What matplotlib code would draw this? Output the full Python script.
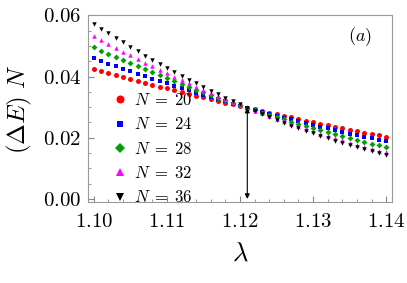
import numpy as np
import matplotlib
matplotlib.use('Agg')
import matplotlib.pyplot as plt
from matplotlib.ticker import MultipleLocator, FuncFormatter

plt.rcParams['mathtext.fontset'] = 'cm'
plt.rcParams['font.family'] = 'serif'
plt.rcParams['font.serif'] = ['cmr10', 'DejaVu Serif']
plt.rcParams['axes.formatter.use_mathtext'] = True

#=======================================================================================
# Data
#=======================================================================================

lam = [1.100, 1.101, 1.102, 1.103, 1.104, 1.105, 1.106, 1.107, 1.108, 1.109,
       1.110, 1.111, 1.112, 1.113, 1.114, 1.115, 1.116, 1.117, 1.118, 1.119,
       1.120, 1.121, 1.122, 1.123, 1.124, 1.125, 1.126, 1.127, 1.128, 1.129,
       1.130, 1.131, 1.132, 1.133, 1.134, 1.135, 1.136, 1.137, 1.138, 1.139,
       1.140]

gap_N20 = [0.04230, 0.04166, 0.04102, 0.04039, 0.03976, 0.03913, 0.03852, 0.03790, 0.03729, 0.03669,
           0.03609, 0.03549, 0.03490, 0.03432, 0.03374, 0.03316, 0.03259, 0.03202, 0.03146, 0.03090,
           0.03035, 0.02981, 0.02926, 0.02872, 0.02819, 0.02766, 0.02714, 0.02662, 0.02611, 0.02560,
           0.02509, 0.02459, 0.02410, 0.02361, 0.02312, 0.02264, 0.02216, 0.02169, 0.02123, 0.02077,
           0.02031]

gap_N24 = [0.04590, 0.04504, 0.04419, 0.04335, 0.04251, 0.04169, 0.04088, 0.04007, 0.03928, 0.03849,
           0.03772, 0.03695, 0.03619, 0.03545, 0.03471, 0.03398, 0.03326, 0.03255, 0.03185, 0.03115,
           0.03047, 0.02980, 0.02914, 0.02848, 0.02784, 0.02720, 0.02658, 0.02596, 0.02535, 0.02475,
           0.02417, 0.02359, 0.02302, 0.02246, 0.02190, 0.02136, 0.02083, 0.02031, 0.01979, 0.01929,
           0.01880]

gap_N28 = [0.04950, 0.04843, 0.04738, 0.04634, 0.04531, 0.04429, 0.04329, 0.04230, 0.04132, 0.04036,
           0.03941, 0.03847, 0.03755, 0.03663, 0.03573, 0.03485, 0.03397, 0.03311, 0.03227, 0.03143,
           0.03061, 0.02980, 0.02901, 0.02823, 0.02746, 0.02670, 0.02596, 0.02523, 0.02451, 0.02380,
           0.02311, 0.02243, 0.02177, 0.02111, 0.02047, 0.01985, 0.01923, 0.01863, 0.01805, 0.01747,
           0.01691]

gap_N32 = [0.05310, 0.05182, 0.05056, 0.04931, 0.04808, 0.04687, 0.04567, 0.04450, 0.04334, 0.04219,
           0.04107, 0.03996, 0.03886, 0.03779, 0.03673, 0.03569, 0.03466, 0.03366, 0.03267, 0.03169,
           0.03074, 0.02980, 0.02888, 0.02797, 0.02708, 0.02621, 0.02536, 0.02452, 0.02370, 0.02290,
           0.02212, 0.02135, 0.02060, 0.01986, 0.01914, 0.01844, 0.01776, 0.01710, 0.01645, 0.01581,
           0.01520]

gap_N36 = [0.05720, 0.05565, 0.05412, 0.05262, 0.05114, 0.04969, 0.04826, 0.04686, 0.04548, 0.04412,
           0.04279, 0.04149, 0.04021, 0.03895, 0.03772, 0.03652, 0.03534, 0.03418, 0.03305, 0.03194,
           0.03086, 0.02980, 0.02877, 0.02776, 0.02678, 0.02582, 0.02488, 0.02397, 0.02309, 0.02223,
           0.02140, 0.02058, 0.01980, 0.01904, 0.01830, 0.01759, 0.01690, 0.01624, 0.01560, 0.01499,
           0.01440]

sizes = [20, 24, 28, 32, 36]
series = [gap_N20, gap_N24, gap_N28, gap_N32, gap_N36]

# crossing point marked by the arrow
lam_c = 1.121
gap_c = 0.0298

xticks = [1.10, 1.11, 1.12, 1.13, 1.14]
yticks = [0.00, 0.02, 0.04, 0.06]

#=======================================================================================
# Plot
#=======================================================================================

colors = ['#ff0000', '#0000ff', '#00a000', '#ff00ff', '#000000']
markers = ['o', 's', 'D', '^', 'v']
msizes = [3.6, 2.8, 3.0, 3.2, 3.2]

fig = plt.figure(figsize=(4.07, 2.83), dpi=100)
ax = fig.add_axes([0.2162, 0.2862, 0.7469, 0.6608])

for n, g, c, mk, ms in zip(sizes, series, colors, markers, msizes):
    ax.plot(lam, g, linestyle='none', marker=mk, color=c, markersize=ms,
            markeredgewidth=0, label=r'$N\;=\;%d$' % n)

ax.annotate('', xy=(lam_c, gap_c), xytext=(lam_c, 0.0),
            arrowprops=dict(arrowstyle='<|-|>', color='k', lw=0.8,
                            mutation_scale=7, shrinkA=0, shrinkB=0))

ax.set_xlim(1.0992, 1.1408)
ax.set_ylim(-0.001, 0.0601)
ax.set_xticks(xticks)
ax.set_yticks(yticks)
ax.xaxis.set_minor_locator(MultipleLocator(0.002))
ax.yaxis.set_minor_locator(MultipleLocator(0.005))
ax.xaxis.set_major_formatter(FuncFormatter(lambda v, p: r'$%.2f$' % v))
ax.yaxis.set_major_formatter(FuncFormatter(lambda v, p: r'$%.2f$' % v))
ax.tick_params(which='both', direction='in', top=False, right=False,
               color='#888888', labelsize=15)
ax.tick_params(which='major', length=4, width=0.8)
ax.tick_params(which='minor', length=2, width=0.6)
ax.tick_params(axis='x', pad=8)
ax.tick_params(axis='y', pad=5)
for s in ax.spines.values():
    s.set_color('#999999')
    s.set_linewidth(0.8)

ax.set_xlabel(r'$\lambda$', fontsize=19, labelpad=8)
ax.set_ylabel(r'$(\Delta E)\ N$', fontsize=18, labelpad=6)

ax.text(0.895, 0.882, r'$(a)$', transform=ax.transAxes, fontsize=13,
        ha='center', va='center')

ax.legend(loc='center left', bbox_to_anchor=(0.052, 0.285), frameon=False,
          fontsize=12, markerscale=1.6, handlelength=1.0, handletextpad=0.3,
          borderpad=0, labelspacing=0.5)

plt.savefig('out.png', dpi=100)
plt.close()
